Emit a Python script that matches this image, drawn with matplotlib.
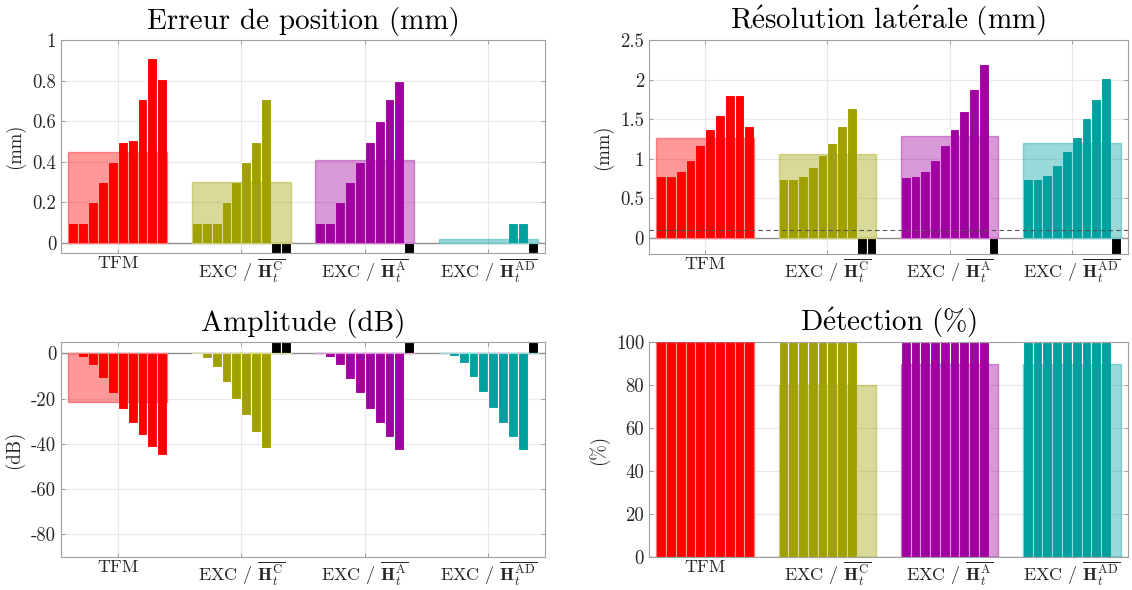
import numpy as np
import matplotlib
matplotlib.use("Agg")
import matplotlib.pyplot as plt
from matplotlib.ticker import FuncFormatter

plt.rcParams['font.family'] = 'serif'
plt.rcParams['font.serif'] = ['cmr10']
plt.rcParams['mathtext.fontset'] = 'cm'
plt.rcParams['axes.unicode_minus'] = False

# Methods (x groups)
methods = ['TFM',
           r'EXC / $\overline{\mathbf{H}_t^{\mathrm{C}}}$',
           r'EXC / $\overline{\mathbf{H}_t^{\mathrm{A}}}$',
           r'EXC / $\overline{\mathbf{H}_t^{\mathrm{AD}}}$']
colors = ['#FF0000', '#A0A000', '#A000A0', '#00A0A0']

nan = np.nan

# Position error (mm), 10 cases per method, nan = not detected
pos_tfm = [0.10, 0.10, 0.20, 0.30, 0.40, 0.50, 0.51, 0.71, 0.91, 0.81]
pos_hc = [0.10, 0.10, 0.10, 0.20, 0.30, 0.40, 0.50, 0.71, nan, nan]
pos_ha = [0.10, 0.10, 0.20, 0.30, 0.40, 0.50, 0.60, 0.71, 0.80, nan]
pos_had = [0.0, 0.0, 0.0, 0.0, 0.0, 0.0, 0.0, 0.10, 0.10, nan]
pos_mean = [0.45, 0.30, 0.41, 0.02]

# Lateral resolution (mm)
res_tfm = [0.78, 0.78, 0.85, 0.99, 1.17, 1.38, 1.55, 1.81, 1.81, 1.42]
res_hc = [0.74, 0.74, 0.78, 0.90, 1.05, 1.20, 1.42, 1.64, nan, nan]
res_ha = [0.77, 0.78, 0.84, 0.99, 1.18, 1.38, 1.61, 1.88, 2.20, nan]
res_had = [0.74, 0.75, 0.80, 0.92, 1.10, 1.28, 1.52, 1.75, 2.02, nan]
res_mean = [1.26, 1.06, 1.29, 1.20]
res_threshold = 0.1

# Amplitude (dB)
amp_tfm = [0.0, -1.5, -5.1, -11.0, -17.6, -24.5, -30.8, -36.1, -41.5, -45.0]
amp_hc = [-0.3, -1.9, -6.2, -12.6, -20.1, -27.3, -34.9, -42.0, nan, nan]
amp_ha = [0.0, -1.5, -5.1, -11.2, -17.6, -24.5, -31.0, -37.1, -42.9, nan]
amp_had = [0.0, -1.0, -4.4, -10.3, -17.2, -24.1, -30.8, -37.0, -42.6, nan]
amp_mean = [-21.3, 0.0, 0.0, 0.0]

# Detection (%)
det_tfm = [100] * 10
det_hc = [100] * 8 + [nan, nan]
det_ha = [100] * 9 + [nan]
det_had = [100] * 9 + [nan]
det_mean = [100, 80, 90, 90]

panels = [
    dict(title='Erreur de position (mm)', ylabel='(mm)',
         data=[pos_tfm, pos_hc, pos_ha, pos_had], mean=pos_mean,
         ylim=(-0.05, 1.0), yticks=[0, 0.2, 0.4, 0.6, 0.8, 1], miss='bottom'),
    dict(title=r'$\mathrm{R\acute{e}solution\ lat\acute{e}rale\ (mm)}$', ylabel='(mm)',
         data=[res_tfm, res_hc, res_ha, res_had], mean=res_mean,
         ylim=(-0.2, 2.5), yticks=[0, 0.5, 1, 1.5, 2, 2.5], miss='bottom'),
    dict(title='Amplitude (dB)', ylabel='(dB)',
         data=[amp_tfm, amp_hc, amp_ha, amp_had], mean=amp_mean,
         ylim=(-90, 5), yticks=[-80, -60, -40, -20, 0], miss='top'),
    dict(title=r'$\mathrm{D\acute{e}tection\ (\%)}$', ylabel='(%)',
         data=[det_tfm, det_hc, det_ha, det_had], mean=det_mean,
         ylim=(0, 100), yticks=[0, 20, 40, 60, 80, 100], miss=None),
]

fig = plt.figure(figsize=(11.32, 5.9), dpi=100)
positions = [
    [0.0539, 0.571, 0.4276, 0.361],
    [0.5733, 0.570, 0.4232, 0.362],
    [0.0539, 0.0559, 0.4276, 0.3644],
    [0.5733, 0.0559, 0.4232, 0.3644],
]

group_x = np.arange(1, 5)
n_cases = 10
slot = 0.08

for pos, p in zip(positions, panels):
    ax = fig.add_axes(pos)
    ax.set_axisbelow(True)
    ax.grid(True, color='#e8e8e8', linewidth=0.8)

    for g, (vals, mval, col) in enumerate(zip(p['data'], p['mean'], colors)):
        vals = np.array(vals, dtype=float)
        xs = group_x[g] + (np.arange(n_cases) - 4.5) * slot
        ok = ~np.isnan(vals)
        ax.bar(xs[ok], vals[ok], width=slot, color=col,
               edgecolor='white', linewidth=0.8, zorder=2)
        if p['miss'] is not None and (~ok).any():
            lim = p['ylim'][0] if p['miss'] == 'bottom' else p['ylim'][1]
            ax.bar(xs[~ok], [lim] * int((~ok).sum()), width=slot, color='black',
                   edgecolor='white', linewidth=0.8, zorder=2)
        # mean of the detected cases
        ax.bar(group_x[g], mval, width=n_cases * slot, color=col, alpha=0.4,
               edgecolor=col, linewidth=1.0, zorder=3)

    ax.axhline(0, color='#909090', linewidth=1.0, zorder=1.5)
    if p['ylabel'] == '(mm)' and p['ylim'][1] > 2:
        ax.axhline(res_threshold, color='#555555', linestyle='--',
                   linewidth=0.8, dashes=(4, 3), zorder=4)

    ax.set_xlim(0.54, 4.46)
    ax.set_ylim(*p['ylim'])
    ax.set_xticks(group_x)
    ax.set_xticklabels(methods)
    ax.set_yticks(p['yticks'])
    ax.yaxis.set_major_formatter(FuncFormatter(lambda v, _: '%g' % v))
    ax.tick_params(direction='in', length=3, width=0.6, colors='#909090',
                   labelcolor='#262626', labelsize=13.5, top=True, right=True)
    ax.tick_params(axis='x', pad=2, labelsize=13)
    for s in ax.spines.values():
        s.set_color('#a0a0a0')
        s.set_linewidth(0.8)
    ax.set_title(p['title'], fontsize=21, color='black', pad=8)
    ax.set_ylabel(p['ylabel'], fontsize=13.5, color='#262626', labelpad=5)

plt.savefig('out.png', dpi=100)
